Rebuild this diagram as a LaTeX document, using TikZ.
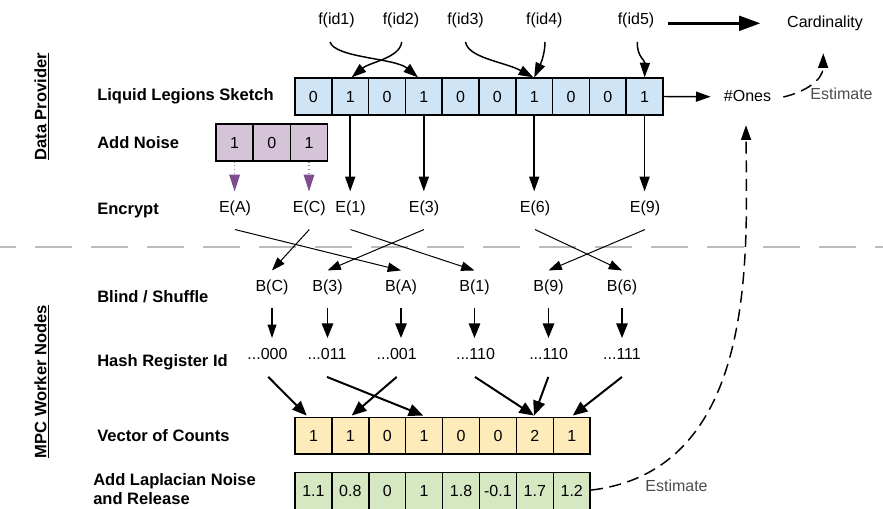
\documentclass[tikz,border=0pt]{standalone}
\usepackage{fontspec}
\setmainfont{Liberation Sans}
\usetikzlibrary{arrows.meta,calc}
\definecolor{cellblue}{HTML}{CFE4F5}
\definecolor{cellpurple}{HTML}{D5C3D8}
\definecolor{cellyellow}{HTML}{FDEBBA}
\definecolor{cellgreen}{HTML}{D5E8C2}
\definecolor{noisearrow}{HTML}{7D4E8F}
\definecolor{estgray}{HTML}{4D4D4D}
\definecolor{divider}{HTML}{BBBBBB}
\begin{document}
\begin{tikzpicture}[x=0.75pt,y=-0.75pt,
  font=\fontsize{12}{14.4}\selectfont,
  cell/.style={draw,line width=1.1pt,minimum width=27.6pt,minimum height=27.6pt,inner sep=0pt},
  lbl/.style={inner sep=0pt,text height=9pt,text depth=2.5pt},
  est/.style={lbl,text=estgray},
  rowlabel/.style={anchor=west,inner sep=0pt,font=\fontsize{12.4}{14.3}\selectfont\bfseries},
  sidelabel/.style={rotate=90,inner sep=0pt,font=\fontsize{12.4}{14.3}\selectfont\bfseries},
  link/.style={line width=1.1pt,-{Triangle[width=7.5pt,length=11pt]}},
  cross/.style={line width=0.75pt,-{Triangle[width=7pt,length=10pt]}},
  down/.style={line width=1.3pt,-{Triangle[width=8.5pt,length=11pt]}},
  tocount/.style={line width=1.5pt,-{Triangle[width=9pt,length=11pt]}},
  noise/.style={draw=noisearrow!70,dotted,line width=0.8pt,-{Triangle[width=8pt,length=12.5pt,color=noisearrow]}},
  bigarrow/.style={line width=2.25pt,-{Triangle[width=11pt,length=16pt]}},
  estline/.style={line width=1.1pt,dash pattern=on 9pt off 5pt,-{Triangle[width=7.5pt,length=11pt]}},
  divline/.style={draw=divider,line width=1.2pt,dash pattern=on 27.75pt off 14.25pt}]
\useasboundingbox (0,0) rectangle (883,508);

% separator between the two parties
\draw[divline] (-21,247) -- (900,247);

% side headings
\node[sidelabel] (dp) at (41.7,106.7) {\underline{Data Provider}};
\node[sidelabel] (mpc) at (41.7,381.7) {\underline{MPC Worker Nodes}};

% row headings
\node[rowlabel] (rLLS) at (97,96.5) {Liquid Legions Sketch};
\node[rowlabel] (rNoise) at (97,142.5) {Add Noise};
\node[rowlabel] (rEnc) at (97,211) {Encrypt};
\node[rowlabel] (rBlind) at (97,297) {Blind / Shuffle};
\node[rowlabel] (rHash) at (97,362) {Hash Register Id};
\node[rowlabel] (rVec) at (97,435.5) {Vector of Counts};
\node[rowlabel,align=left] (rLap) at (93,488.8) {Add Laplacian Noise\\and Release};

% register vectors
\foreach \v [count=\i from 0] in {0,1,0,1,0,0,1,0,0,1}
  \node[cell,fill=cellblue] (s\i) at ({295+36.8*(\i+0.5)},96.5) {\v};
\foreach \v [count=\i from 0] in {1,0,1}
  \node[cell,fill=cellpurple,minimum width=27.9pt] (n\i) at ({216+37.2*(\i+0.5)},142.5) {\v};
\foreach \v [count=\i from 0] in {1,1,0,1,0,0,2,1}
  \node[cell,fill=cellyellow,minimum width=27.7pt] (y\i) at ({295+36.9*(\i+0.5)},435.7) {\v};
\foreach \v [count=\i from 0] in {1.1,0.8,0,1,1.8,-0.1,1.7,1.2}
  \node[cell,fill=cellgreen,minimum width=27.7pt,minimum height=28.5pt] (g\i) at ({295+36.9*(\i+0.5)},491.3) {\raisebox{1.2pt}{\v}};

% hashed ids
\node[lbl] (f1) at (336.5,20) {f(id1)};
\node[lbl] (f2) at (401,20) {f(id2)};
\node[lbl] (f3) at (465.5,20) {f(id3)};
\node[lbl] (f4) at (544.3,20) {f(id4)};
\node[lbl] (f5) at (636,20) {f(id5)};
\node[lbl] (card) at (825,22.7) {Cardinality};
\node[lbl] (ones) at (747.5,96.7) {\#Ones};
\node[est] (est1) at (841.5,95) {Estimate};
\node[est] (est2) at (676.5,486.7) {Estimate};

% encrypted values
\node[lbl] (ea) at (235,208.3) {E(A)};
\node[lbl] (ec) at (309.3,208.3) {E(C)};
\node[lbl] (e1) at (350.5,208.3) {E(1)};
\node[lbl] (e3) at (424,208.3) {E(3)};
\node[lbl] (e6) at (535,208.3) {E(6)};
\node[lbl] (e9) at (645,208.3) {E(9)};

% blinded and shuffled values
\node[lbl] (bc) at (272,286.7) {B(C)};
\node[lbl] (b3) at (327.5,286.7) {B(3)};
\node[lbl] (ba) at (401,286.7) {B(A)};
\node[lbl] (b1) at (474.5,286.7) {B(1)};
\node[lbl] (b9) at (548.5,286.7) {B(9)};
\node[lbl] (b6) at (622,286.7) {B(6)};

% register ids
\node[lbl] (h0) at (267.5,355) {...000};
\node[lbl] (h1) at (327,355) {...011};
\node[lbl] (h2) at (396.7,355) {...001};
\node[lbl] (h3) at (475.5,355) {...110};
\node[lbl] (h4) at (548.7,355) {...110};
\node[lbl] (h5) at (622,355) {...111};

% ids into the sketch
\draw[link] ($(f1.south)+(-6.5,14)$) .. controls (335,58) and (395,58) .. ($(s3.north)+(-5.8,0)$);
\draw[link] ($(f2.south)+(0.7,14)$) .. controls (400,58) and (370,62) .. ($(s1.north)+(1.5,0)$);
\draw[link] ($(f3.south)+(0,14)$) .. controls (468,58) and (505,62) .. ($(s6.north)+(-0.9,0)$);
\draw[link] ($(f4.south)+(0.7,14)$) .. controls (545,55) and (540,65) .. (s6.north);
\draw[link] ($(f5.south)+(1.3,14)$) .. controls (637,57) and (645,60) .. (s9.north);
\draw[bigarrow] ($(f5.east)+(14,3.3)$) -- ($(card.west)+(-26.5,0.6)$);
\draw[link] (s9.east) -- ($(ones.west)+(-13,0)$);
\draw[estline] ($(ones.east)+(12,0.3)$) .. controls (805,92) and (823,80) .. ($(card.south)+(-1.7,22.6)$);

% noise and encryption
\draw[noise] (n0.south) -- ($(n0.south |- ea.north)+(0,-9)$);
\draw[noise] (n2.south) -- ($(n2.south |- ec.north)+(0,-9)$);
\foreach \c/\e in {1/e1,3/e3,6/e6,9/e9}
  \draw[link] (s\c.south) -- ($(s\c.south |- \e.north)+(0,-9)$);

% blind and shuffle
\foreach \e/\b in {ea/ba,ec/bc,e1/b1,e3/b3,e6/b6,e9/b9}
  \draw[cross] ($(\e.south)+(0,13.3)$) -- ($(\b.north)+(0,-8.3)$);

% hashing
\draw[down,-{Triangle[width=6.5pt,length=10pt]},line width=1pt] ($(bc.south)+(0,13)$) -- ($(bc.south |- h0.north)+(0,-9)$);
\foreach \b/\h in {b3/h1,ba/h2,b1/h3,b9/h4,b6/h5}
  \draw[down] ($(\b.south)+(0,13)$) -- ($(\b.south |- \h.north)+(0,-9)$);

% counting
\draw[tocount] ($(h0.south)+(0.8,14)$) -- ($(y0.north)+(-6.7,-1)$);
\draw[tocount] ($(h1.south)+(0,14)$) -- ($(y3.north)+(-0.8,-1)$);
\draw[tocount] ($(h2.south)+(0,14)$) -- ($(y1.north)+(1.4,-1)$);
\draw[tocount] ($(h3.south)+(-0.5,14)$) -- ($(y6.north)+(-0.8,-1)$);
\draw[tocount] ($(h4.south)+(-0.4,14)$) -- ($(y6.north)+(-0.8,-1)$);
\draw[tocount] ($(h5.south)+(0,14)$) -- ($(y7.north)+(1,-1)$);

% released estimate
\draw[estline] ($(g7.east)+(0,-1.2)$) .. controls (760,470) and (746.5,250) .. ($(ones.south)+(-1.5,20.6)$);
\end{tikzpicture}
\end{document}
